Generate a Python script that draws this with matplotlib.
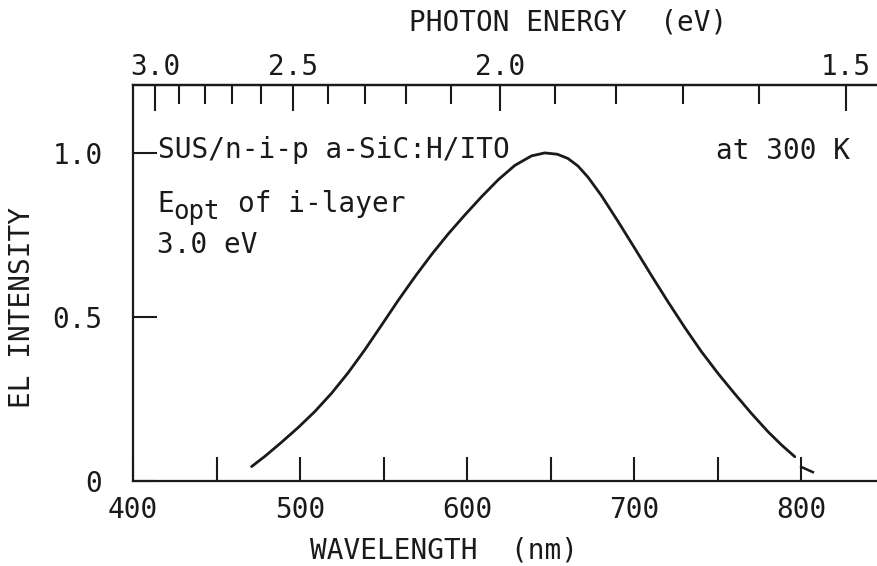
import numpy as np
import matplotlib
matplotlib.use("Agg")
import matplotlib.pyplot as plt
from matplotlib.ticker import FixedLocator, FixedFormatter

# ---------------- data ----------------
wavelength_nm = [471.0, 478.9, 488.9, 498.9, 508.9, 518.8, 528.8, 538.8, 548.8,
                 558.7, 568.7, 578.7, 588.7, 598.7, 608.6, 618.6, 628.6, 638.6,
                 646.5, 654.0, 660.4, 666.4, 672.4, 680.4, 690.4, 700.4, 710.3,
                 720.3, 730.3, 740.2, 750.2, 760.2, 770.2, 780.2, 788.2, 796.2]
el_intensity = [0.044, 0.075, 0.118, 0.163, 0.212, 0.267, 0.330, 0.400, 0.475,
                0.550, 0.622, 0.690, 0.753, 0.811, 0.866, 0.918, 0.962, 0.991,
                1.000, 0.996, 0.983, 0.960, 0.926, 0.870, 0.791, 0.709, 0.627,
                0.546, 0.468, 0.395, 0.328, 0.266, 0.206, 0.150, 0.110, 0.074]

hook_x = [800, 807]
hook_y = [0.043, 0.027]

wl_major = [400, 500, 600, 700, 800]
wl_minor = [450, 550, 650, 750]
wl_labels = ["400", "500", "600", "700", "800"]
int_ticks = [0, 0.5, 1.0]
int_labels = ["0", "0.5", "1.0"]
ev_major = [3.0, 2.5, 2.0, 1.5]
ev_minor = [2.9, 2.8, 2.7, 2.6, 2.4, 2.3, 2.2, 2.1, 1.9, 1.8, 1.7, 1.6]
ev_labels = ["3.0", "2.5", "2.0", "1.5"]

# ---------------- style ----------------
W, H = 878, 566
INK = "#1a1a1a"
FONT = "DejaVu Sans Mono"
FS = 20
plt.rcParams["font.family"] = FONT

fig = plt.figure(figsize=(W / 100, H / 100), dpi=100)


def fx(x):
    return x / W


def fy(y):
    return 1 - y / H


ax = fig.add_axes([fx(133), fy(481), 1 - fx(133), (481 - 85) / H])
ax.set_xlim(400, 846)
ax.set_ylim(0, 1.207)

ax.plot(wavelength_nm, el_intensity, color=INK, lw=2.0, solid_capstyle="round",
        solid_joinstyle="round")
ax.plot(hook_x, hook_y, color=INK, lw=1.8)

for s in ["left", "bottom", "top"]:
    ax.spines[s].set_linewidth(1.6)
    ax.spines[s].set_color(INK)
ax.spines["right"].set_visible(False)

ax.set_xticks(wl_major)
ax.set_xticklabels(wl_labels)
ax.set_xticks(wl_minor, minor=True)
ax.set_yticks(int_ticks)
ax.set_yticklabels(int_labels)
ax.tick_params(axis="x", which="both", direction="in", length=17, width=1.5,
               color=INK, labelsize=FS, pad=11, labelcolor=INK)
ax.tick_params(axis="y", which="both", direction="in", length=17, width=1.5,
               color=INK, labelsize=FS, pad=22, labelcolor=INK)
ax.tick_params(axis="x", which="both", top=False)

sec = ax.secondary_xaxis("top", functions=(lambda x: 1240.0 / np.where(np.asarray(x) == 0, 1e-9, x),
                                           lambda e: 1240.0 / np.where(np.asarray(e) == 0, 1e-9, e)))
sec.xaxis.set_major_locator(FixedLocator(ev_major))
sec.xaxis.set_major_formatter(FixedFormatter(ev_labels))
sec.xaxis.set_minor_locator(FixedLocator(ev_minor))
sec.tick_params(axis="x", which="major", direction="in", length=19, width=1.5,
                color=INK, labelsize=FS, pad=3, labelcolor=INK)
sec.tick_params(axis="x", which="minor", direction="in", length=14, width=1.5, color=INK)
sec.spines["top"].set_linewidth(1.6)
sec.spines["top"].set_color(INK)

# ---------------- texts ----------------
fig.text(fx(444), fy(550), "WAVELENGTH  (nm)", fontsize=FS, color=INK,
         ha="center", va="center")
fig.text(fx(568), fy(22), "PHOTON ENERGY  (eV)", fontsize=FS, color=INK,
         ha="center", va="center")
fig.text(fx(22), fy(308), "EL INTENSITY", fontsize=FS, color=INK,
         ha="center", va="center", rotation=90)

fig.text(fx(158), fy(158), "SUS/n-i-p a-SiC:H/ITO", fontsize=FS, color=INK,
         ha="left", va="baseline")
fig.text(fx(850), fy(159), "at 300 K", fontsize=FS, color=INK,
         ha="right", va="baseline")
fig.text(fx(157), fy(212), "E", fontsize=FS, color=INK, ha="left", va="baseline")
fig.text(fx(173), fy(219), "opt", fontsize=FS - 1.5, color=INK, ha="left", va="baseline")
fig.text(fx(238), fy(212), "of i-layer", fontsize=FS, color=INK, ha="left", va="baseline")
fig.text(fx(157), fy(253), "3.0 eV", fontsize=FS, color=INK, ha="left", va="baseline")

fig.savefig("out.png", dpi=100, facecolor="white")
